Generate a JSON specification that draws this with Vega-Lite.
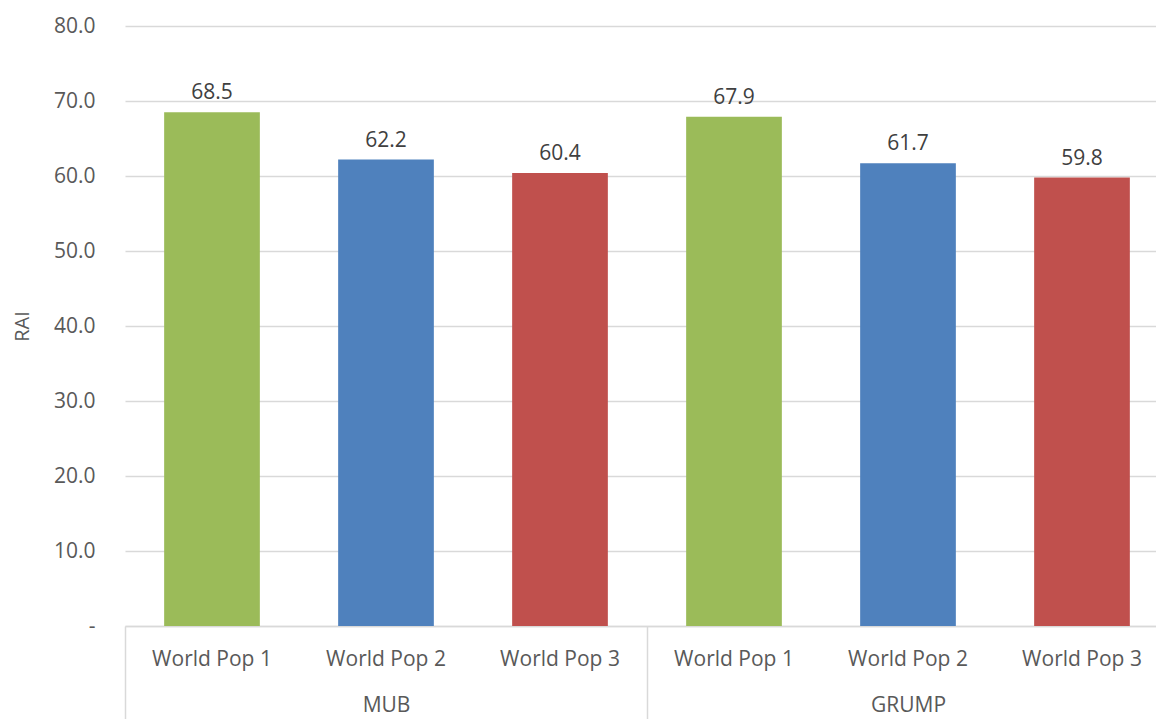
{
  "$schema": "https://vega.github.io/schema/vega-lite/v6.json",
  "width": 1044,
  "height": 600,
  "autosize": {"type": "none"},
  "padding": {"left": 125, "top": 26, "right": 0, "bottom": 93},
  "background": "white",
  "config": {
    "view": {"stroke": null},
    "font": "Open Sans",
    "axis": {"labelFont": "Open Sans", "titleFont": "Open Sans"}
  },
  "data": {
    "values": [
      {"group": "MUB", "pop": "World Pop 1", "key": "MUB|World Pop 1", "RAI": 68.5},
      {"group": "MUB", "pop": "World Pop 2", "key": "MUB|World Pop 2", "RAI": 62.2},
      {"group": "MUB", "pop": "World Pop 3", "key": "MUB|World Pop 3", "RAI": 60.4},
      {"group": "GRUMP", "pop": "World Pop 1", "key": "GRUMP|World Pop 1", "RAI": 67.9},
      {"group": "GRUMP", "pop": "World Pop 2", "key": "GRUMP|World Pop 2", "RAI": 61.7},
      {"group": "GRUMP", "pop": "World Pop 3", "key": "GRUMP|World Pop 3", "RAI": 59.8}
    ]
  },
  "layer": [
    {
      "encoding": {
        "x": {
          "field": "key",
          "type": "nominal",
          "sort": null,
          "scale": {"paddingInner": 0.45, "paddingOuter": 0.225},
          "axis": {
            "orient": "bottom",
            "title": null,
            "labelExpr": "split(datum.value, '|')[1]",
            "labelAngle": 0,
            "labelFontSize": 21,
            "labelColor": "#595959",
            "labelPadding": 22,
            "ticks": false,
            "domainColor": "#d9d9d9",
            "domainWidth": 1.5
          }
        },
        "y": {
          "field": "RAI",
          "type": "quantitative",
          "scale": {"domain": [0, 80]},
          "axis": {
            "title": "RAI",
            "titleFontSize": 20,
            "titleFontWeight": "normal",
            "titleColor": "#595959",
            "titleAngle": -90,
            "titleX": -103,
            "titleY": 300,
            "titleAlign": "center",
            "titleBaseline": "middle",
            "values": [0, 10, 20, 30, 40, 50, 60, 70, 80],
            "labelExpr": "datum.value == 0 ? '-\u00a0\u00a0\u00a0\u00a0\u00a0\u00a0' : format(datum.value, '.1f')",
            "labelFontSize": 21,
            "labelColor": "#595959",
            "labelPadding": 30,
            "ticks": false,
            "domain": false,
            "gridColor": "#d9d9d9",
            "gridWidth": 1.5
          }
        }
      },
      "layer": [
        {
          "mark": {"type": "bar"},
          "encoding": {
            "color": {
              "field": "pop",
              "type": "nominal",
              "scale": {"domain": ["World Pop 1", "World Pop 2", "World Pop 3"], "range": ["#9BBB59", "#4F81BD", "#C0504D"]},
              "legend": null
            }
          }
        },
        {
          "mark": {"type": "text", "baseline": "alphabetic", "dy": -13, "fontSize": 21, "color": "#404040"},
          "encoding": {
            "text": {"field": "RAI", "type": "quantitative", "format": ".1f"}
          }
        }
      ]
    },
    {
      "mark": {"type": "text", "opacity": 0},
      "encoding": {
        "x": {
          "field": "group",
          "type": "nominal",
          "sort": ["MUB", "GRUMP"],
          "scale": {"paddingInner": 0, "paddingOuter": 0},
          "axis": {
            "orient": "bottom",
            "title": null,
            "labelAngle": 0,
            "labelFontSize": 21,
            "labelColor": "#595959",
            "labelPadding": -27,
            "tickBand": "extent",
            "tickSize": 95,
            "tickColor": "#d9d9d9",
            "tickWidth": 1.5,
            "domain": false
          }
        },
        "text": {"field": "group"}
      }
    }
  ],
  "resolve": {"scale": {"x": "independent"}, "axis": {"x": "independent"}}
}
